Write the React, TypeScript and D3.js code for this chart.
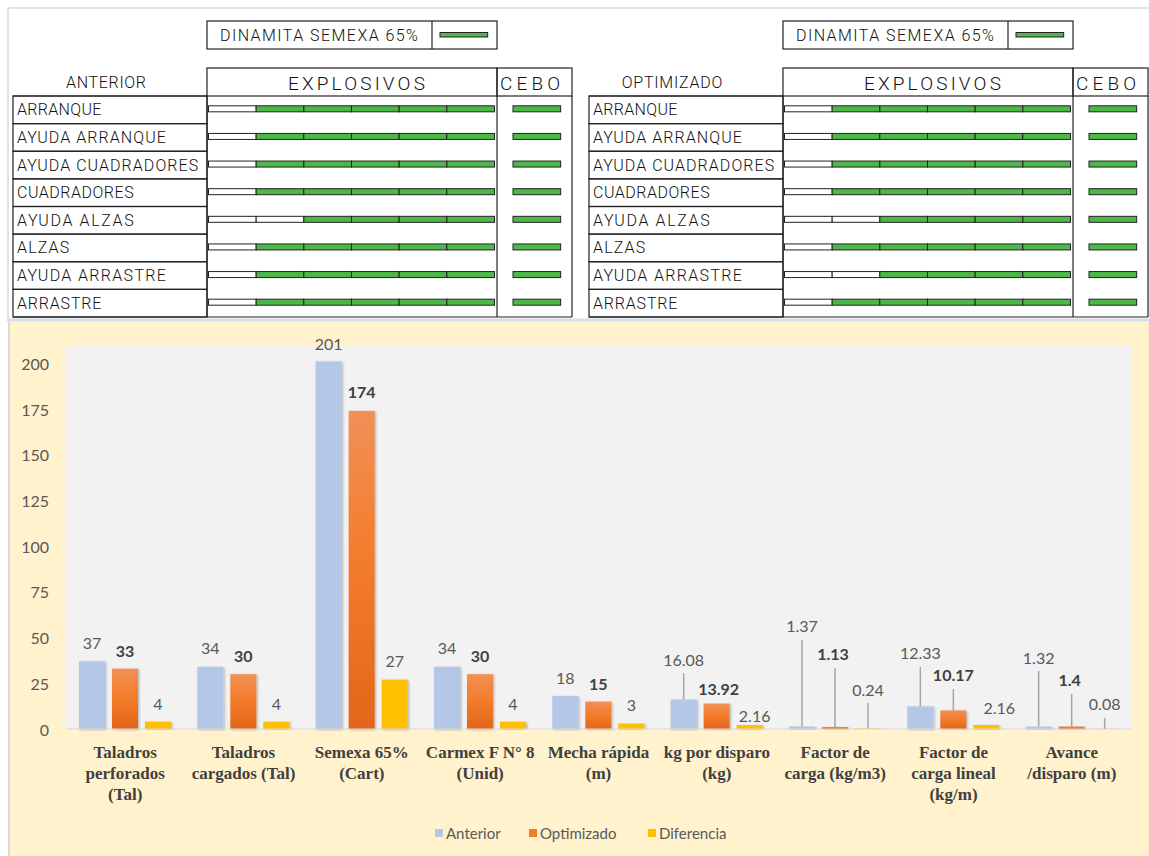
import React from 'react'
import * as d3 from 'd3'

// ---- charge diagrams (top) ----
const holes = ['ARRANQUE', 'AYUDA ARRANQUE', 'AYUDA CUADRADORES', 'CUADRADORES', 'AYUDA ALZAS', 'ALZAS', 'AYUDA ARRASTRE', 'ARRASTRE']
const SEGMENTS = 6
// number of empty (stemming) cartridges out of 6, per hole
const emptyAnterior = [1, 1, 1, 1, 2, 1, 1, 1]
const emptyOptimizado = [1, 1, 1, 1, 2, 1, 2, 1]

// ---- bar chart (bottom) ----
const categories = [
  'Taladros|perforados|(Tal)',
  'Taladros|cargados (Tal)',
  'Semexa 65%|(Cart)',
  'Carmex F N° 8|(Unid)',
  'Mecha rápida|(m)',
  'kg por disparo|(kg)',
  'Factor de|carga (kg/m3)',
  'Factor de|carga lineal|(kg/m)',
  'Avance|/disparo (m)',
]
const seriesNames = ['Anterior', 'Optimizado', 'Diferencia']
const anterior = [37, 34, 201, 34, 18, 16.08, 1.37, 12.33, 1.32]
const optimizado = [33, 30, 174, 30, 15, 13.92, 1.13, 10.17, 1.4]
const diferencia = [4, 4, 27, 4, 3, 2.16, 0.24, 2.16, 0.08]
const yTicks = [0, 25, 50, 75, 100, 125, 150, 175, 200]

// label placement (px above bar top / px sideways), as moved by hand in the original
const liftAnterior = [18.5, 19, 18, 19, 19, 40.5, 100.5, 53.5, 69.5]
const liftOptimizado = [18.5, 18.5, 19.5, 18.5, 18.5, 15.5, 73, 35.5, 46.5]
const liftDiferencia = [18.5, 18.5, 19, 18.5, 19.5, 10, 39.5, 18, 25]
const dxOptimizado = [0, 0, 0, 0, 0, 2, -2, 0, -2]
const dxDiferencia = [0, 0, 0, 0, 0, 5, 0, 13, 0]

const GREEN = '#4DB848'
const INK = '#222'
const CAD = { fontFamily: 'Roboto, sans-serif', fontWeight: 300, fill: '#111', lengthAdjust: 'spacing' } as const
const SANS = 'Lato, "Open Sans", sans-serif'
const SERIF = '"Liberation Serif", "DejaVu Serif", serif'

// CAD lettering has an even pitch per character
const cadLen = (s: string, pitch: number) => s.length * pitch - pitch * 0.15

function ChargePanel({ dx, heading, headingX, empties }: { dx: number; heading: string; headingX: number; empties: number[] }) {
  const lab0 = 13 + dx
  const exp0 = 207 + dx
  const ceb0 = 497 + dx
  const ceb1 = 572 + dx
  const y = d3.scaleBand<string>().domain(holes).range([96, 317])
  const seg = d3.scaleLinear().domain([0, SEGMENTS]).range([exp0 + 1.5, ceb0 - 2.5])
  const segW = seg(1) - seg(0)
  const barH = 6
  const title = 'DINAMITA SEMEXA 65%'

  return (
    <g>
      {/* legend box */}
      <rect x={exp0} y={21} width={ceb0 - exp0} height={28} fill="white" stroke={INK} strokeWidth={1.2} />
      <line x1={exp0 + 225} x2={exp0 + 225} y1={21} y2={49} stroke={INK} strokeWidth={1.2} />
      <text x={exp0 + 13} y={35} dominantBaseline="central" fontSize={16} textLength={cadLen(title, 10.5)} {...CAD}>{title}</text>
      <rect x={exp0 + 233} y={32.5} width={segW} height={4.5} fill={GREEN} stroke={INK} strokeWidth={1} />

      {/* header */}
      <text x={headingX - cadLen(heading, 10.2) / 2} y={82.5} dominantBaseline="central" fontSize={16} textLength={cadLen(heading, 10.2)} {...CAD}>{heading}</text>
      <rect x={exp0} y={68} width={ceb0 - exp0} height={28} fill="none" stroke={INK} strokeWidth={1.2} />
      <rect x={ceb0} y={68} width={ceb1 - ceb0} height={28} fill="none" stroke={INK} strokeWidth={1.2} />
      <text x={exp0 + 81} y={83} dominantBaseline="central" fontSize={19} textLength={cadLen('EXPLOSIVOS', 13.9)} {...CAD}>EXPLOSIVOS</text>
      <text x={ceb0 + 3} y={83} dominantBaseline="central" fontSize={19} textLength={cadLen('CEBO', 15.6)} {...CAD}>CEBO</text>

      {/* columns */}
      <line x1={exp0} x2={exp0} y1={96} y2={317} stroke={INK} strokeWidth={1.2} />
      <line x1={ceb0} x2={ceb0} y1={96} y2={317} stroke={INK} strokeWidth={1.2} />
      <line x1={ceb1} x2={ceb1} y1={96} y2={317} stroke={INK} strokeWidth={1.2} />
      <line x1={lab0} x2={ceb1} y1={317} y2={317} stroke={INK} strokeWidth={1.2} />
      <line x1={lab0} x2={exp0} y1={96} y2={96} stroke={INK} strokeWidth={1.2} />

      {holes.map((h, i) => {
        const y0 = y(h) ?? 0
        const cy = y0 + y.bandwidth() / 2 - 1
        return (
          <g key={h}>
            <rect x={lab0} y={y0} width={exp0 - lab0} height={y.bandwidth()} fill="none" stroke={INK} strokeWidth={1.2} />
            <text x={lab0 + 4} y={cy + 1} dominantBaseline="central" fontSize={16} textLength={cadLen(h, 10.75)} {...CAD}>{h}</text>
            {d3.range(SEGMENTS).map(k => (
              <rect key={k} x={seg(k)} y={cy - barH / 2} width={segW} height={barH}
                fill={k < empties[i] ? 'white' : GREEN} stroke={INK} strokeWidth={1} />
            ))}
            <rect x={ceb0 + 16} y={cy - barH / 2} width={segW} height={barH} fill={GREEN} stroke={INK} strokeWidth={1} />
          </g>
        )
      })}
    </g>
  )
}

function BarChart() {
  const plot = { left: 66, right: 1131, top: 345, bottom: 729 }
  const x0 = d3.scaleBand<string>().domain(categories).range([plot.left, plot.right])
  const x1 = d3.scaleBand<string>().domain(seriesNames).range([13, 105]).paddingInner(0.212)
  const y = d3.scaleLinear().domain([0, 210]).range([plot.bottom, plot.top])

  const values = [anterior, optimizado, diferencia]
  const lifts = [liftAnterior, liftOptimizado, liftDiferencia]
  const dxs = [categories.map(() => 0), dxOptimizado, dxDiferencia]
  const fills = ['#B4C7E7', 'url(#gradOrange)', '#FFC000']
  const legendFills = ['#B4C7E7', '#ED7D31', '#FFC000']
  const legendX = [435, 529, 648]

  return (
    <g>
      <defs>
        <linearGradient id="gradOrange" x1="0" y1="0" x2="0" y2="1">
          <stop offset="0%" stopColor="#F19057" />
          <stop offset="45%" stopColor="#F47D2C" />
          <stop offset="100%" stopColor="#E1661A" />
        </linearGradient>
        <filter id="barShadow" x="-20%" y="-5%" width="140%" height="110%">
          <feDropShadow dx="1.2" dy="0.8" stdDeviation="1" floodColor="#000" floodOpacity="0.28" />
        </filter>
      </defs>
      <rect x={9} y={322} width={1140} height={534} fill="#FFF2CC" />
      <line x1={9} x2={9} y1={322} y2={856} stroke="#D0D0D0" strokeWidth={1.5} />
      <rect x={plot.left} y={plot.top} width={plot.right - plot.left} height={plot.bottom - plot.top} fill="#F2F2F2" />

      {yTicks.map(t => (
        <text key={t} x={49} y={y(t)} textAnchor="end" dominantBaseline="central" fontFamily={SANS} fontSize={16} fill="#595959">{t}</text>
      ))}

      {values.map((vals, s) => (
        <g key={seriesNames[s]}>
          {vals.map((v, i) => {
            const bx = (x0(categories[i]) ?? 0) + (x1(seriesNames[s]) ?? 0)
            return (
              <rect key={i} x={bx} y={y(v)} width={x1.bandwidth()} height={y(0) - y(v)} fill={fills[s]} filter="url(#barShadow)" />
            )
          })}
        </g>
      ))}

      <line x1={plot.left} x2={plot.right} y1={plot.bottom} y2={plot.bottom} stroke="#D9D9D9" strokeWidth={1} />

      {values.map((vals, s) => (
        <g key={'lab' + s}>
          {vals.map((v, i) => {
            const cx = (x0(categories[i]) ?? 0) + (x1(seriesNames[s]) ?? 0) + x1.bandwidth() / 2
            const top = y(v)
            const ly = top - lifts[s][i]
            const lx = cx + dxs[s][i]
            return (
              <g key={i}>
                {lifts[s][i] > 22 && (
                  <line x1={cx} x2={cx} y1={ly + 14} y2={top} stroke="#A6A6A6" strokeWidth={1.5} />
                )}
                <text x={lx} y={ly} textAnchor="middle" dominantBaseline="central" fontFamily={SANS} fontSize={16}
                  fontWeight={s === 1 ? 700 : 400} fill={s === 1 ? '#404040' : '#595959'}>{String(v)}</text>
              </g>
            )
          })}
        </g>
      ))}

      {categories.map(c => (
        <text key={c} textAnchor="middle" style={{ fontFamily: SERIF, fontWeight: 700, fontSize: 17 }} fill="#404040">
          {c.split('|').map((line, k) => (
            <tspan key={k} x={(x0(c) ?? 0) + x0.bandwidth() / 2} y={752 + k * 21} dominantBaseline="central">{line}</tspan>
          ))}
        </text>
      ))}

      {seriesNames.map((n, s) => (
        <g key={n}>
          <rect x={legendX[s]} y={829} width={8} height={8} fill={legendFills[s]} />
          <text x={legendX[s] + 11} y={833} dominantBaseline="central" fontFamily={SANS} fontSize={15} fill="#595959">{n}</text>
        </g>
      ))}
    </g>
  )
}

export default function App() {
  return (
    <div style={{ position: 'absolute', left: 0, top: 0 }}>
      <svg width={1149} height={856} style={{ display: 'block', background: 'white' }}>
        <line x1={8} x2={1149} y1={8} y2={8} stroke="#DCE3F1" strokeWidth={2} />
        <line x1={8} x2={8} y1={8} y2={322} stroke="#DCE3F1" strokeWidth={2} />
        <ChargePanel dx={0} heading="ANTERIOR" headingX={106} empties={emptyAnterior} />
        <ChargePanel dx={576} heading="OPTIMIZADO" headingX={672} empties={emptyOptimizado} />
        <line x1={8} x2={1149} y1={320} y2={320} stroke="#D6DCE8" strokeWidth={3} />
        <BarChart />
      </svg>
    </div>
  )
}
